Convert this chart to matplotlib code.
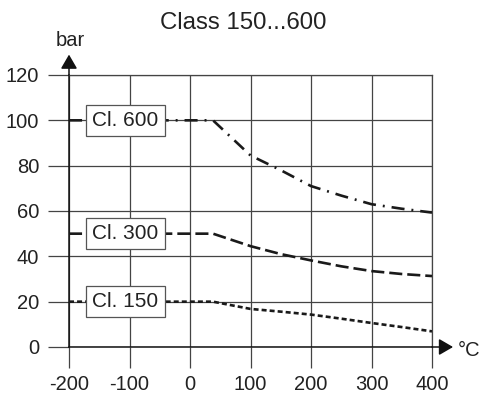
import matplotlib.pyplot as plt

plt.rcParams["font.family"] = ["Liberation Sans", "DejaVu Sans"]
plt.rcParams["lines.scale_dashes"] = False

# rating curves (pressure in bar vs temperature in degC)
temp = [-200, 38, 100, 150, 200, 250, 300, 350, 400]
cl600 = [100, 100, 84.5, 78, 71, 66.8, 63, 61, 59.3]
cl300 = [50, 50, 44.5, 41, 38.2, 35.6, 33.5, 32.2, 31.3]
cl150 = [20, 20, 16.8, 15.6, 14.3, 12.5, 10.6, 8.8, 6.9]

labels = ["Cl. 600", "Cl. 300", "Cl. 150"]
label_x = -107
xticks = [-200, -100, 0, 100, 200, 300, 400]
yticks = [0, 20, 40, 60, 80, 100, 120]

fig = plt.figure(figsize=(4.8, 3.94), dpi=100)
ax = fig.add_axes([69 / 480, 47 / 394, 363 / 480, 272 / 394])

styles = [(0, (9.4, 5, 1.4, 5)), (0, (9.4, 3.6)), (0, (3.6, 2.2))]
for vals, ls, lab in zip([cl600, cl300, cl150], styles, labels):
    ax.plot(temp, vals, color="#1a1a1a", lw=1.9, linestyle=ls, zorder=3)
    ax.text(label_x, vals[0], lab, fontsize=15, ha="center", va="center", color="#222",
            zorder=5,
            bbox=dict(boxstyle="square,pad=0.3", fc="white", ec="#555", lw=0.9))

ax.set_xlim(-200, 400)
ax.set_ylim(0, 120)
ax.set_xticks(xticks)
ax.set_yticks(yticks)
ax.set_xticklabels([str(t) for t in xticks])
ax.set_yticklabels([str(t) for t in yticks])
ax.grid(True, color="#444", lw=0.9)
ax.tick_params(axis="both", direction="out", length=15, width=0.9, color="#444",
               labelsize=14.5, labelcolor="#222")
ax.tick_params(axis="x", pad=5)
ax.tick_params(axis="y", pad=6.5)

for s in ["top", "right"]:
    ax.spines[s].set_color("#444")
    ax.spines[s].set_linewidth(0.9)
for s in ["left", "bottom"]:
    ax.spines[s].set_color("#111")
    ax.spines[s].set_linewidth(1.1)

# axis arrows
ax.annotate("", xy=(0, 1.075), xytext=(0, 1.0), xycoords="axes fraction",
            arrowprops=dict(arrowstyle="-|>,head_length=0.86,head_width=0.5",
                            color="#111", lw=1.1, shrinkA=0, shrinkB=0))
ax.annotate("", xy=(1.058, 0), xytext=(1.0, 0), xycoords="axes fraction",
            arrowprops=dict(arrowstyle="-|>,head_length=0.86,head_width=0.5",
                            color="#111", lw=1.1, shrinkA=0, shrinkB=0))

fig.text(70 / 480, 1 - 40 / 394, "bar", fontsize=14.5, ha="center", va="center", color="#222")
fig.text(469 / 480, 1 - 350 / 394, "°C", fontsize=14.5, ha="center", va="center", color="#222")
fig.text(243 / 480, 1 - 23 / 394, "Class 150...600", fontsize=17.3, ha="center", va="center",
         color="#222")

fig.savefig("out.png", dpi=100)
